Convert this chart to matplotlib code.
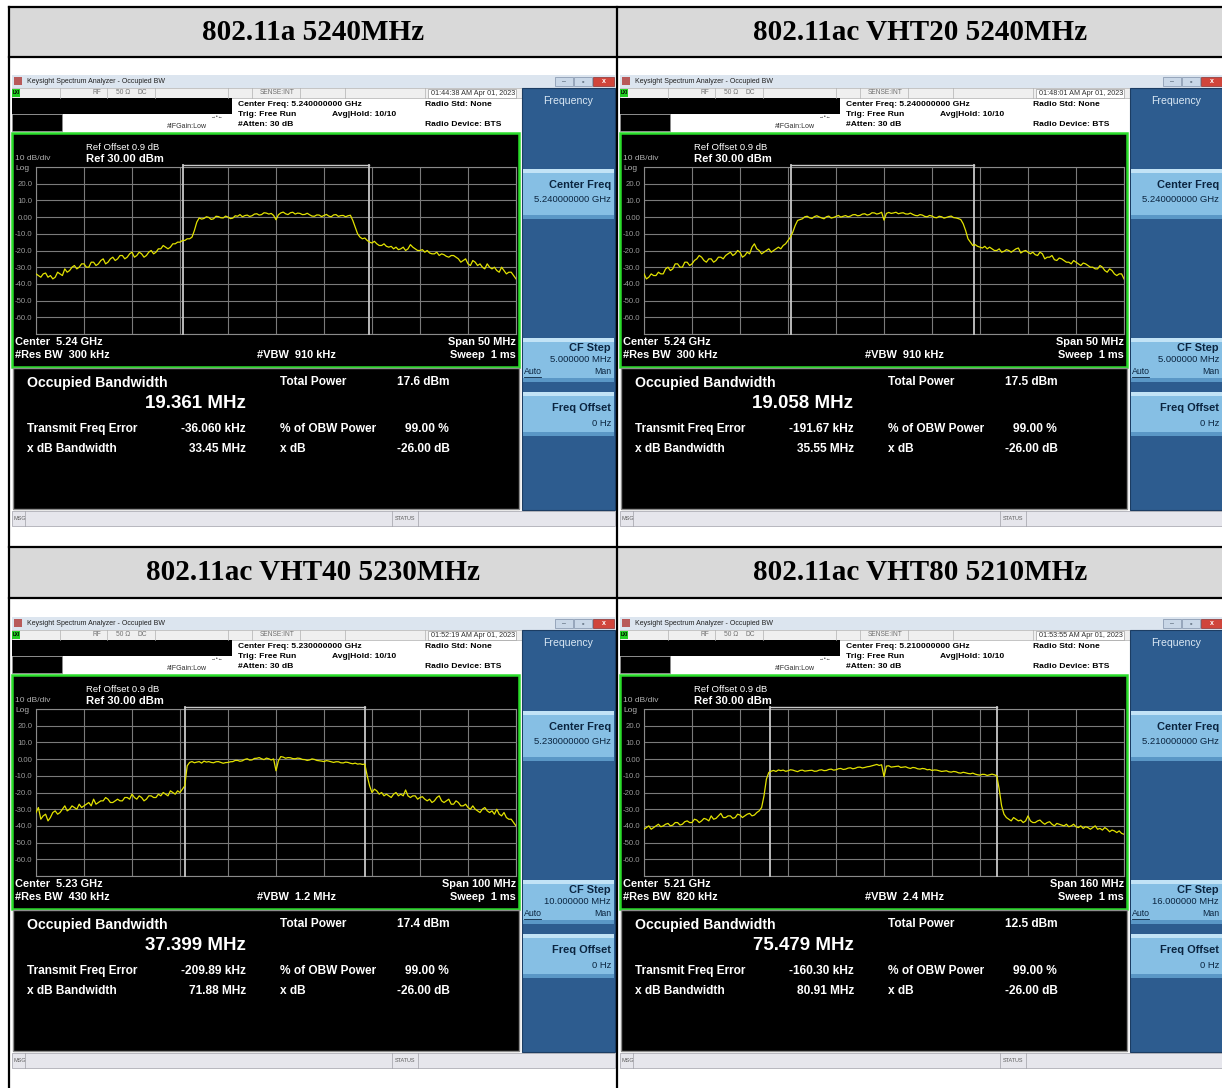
import numpy as np
import matplotlib.pyplot as plt
from matplotlib.patches import Rectangle

W, H = 1222, 1088

# Measurement settings for the four captures
titles = ["802.11a 5240MHz", "802.11ac VHT20 5240MHz",
          "802.11ac VHT40 5230MHz", "802.11ac VHT80 5210MHz"]
timestamps = ["01:44:38 AM Apr 01, 2023", "01:48:01 AM Apr 01, 2023",
              "01:52:19 AM Apr 01, 2023", "01:53:55 AM Apr 01, 2023"]
center_ghz = [5.24, 5.24, 5.23, 5.21]
span_mhz = [50, 50, 100, 160]
res_bw = ["300 kHz", "300 kHz", "430 kHz", "820 kHz"]
vbw = ["910 kHz", "910 kHz", "1.2 MHz", "2.4 MHz"]
cf_step = ["5.000000 MHz", "5.000000 MHz", "10.000000 MHz", "16.000000 MHz"]
obw_mhz = [19.361, 19.058, 37.399, 75.479]
total_power_dbm = [17.6, 17.5, 17.4, 12.5]
freq_error_khz = [-36.060, -191.67, -209.89, -160.30]
freq_error_txt = ["-36.060 kHz", "-191.67 kHz", "-209.89 kHz", "-160.30 kHz"]
xdb_bw_mhz = [33.45, 35.55, 71.88, 80.91]

# Spectrum traces (dBm), 201 points evenly spaced across each span
trace_11a = [
    -34, -35, -36, -34, -33.5, -36, -35, -37, -36, -33, -34, -35, -31, -33, -32, -30,
    -29, -31, -30, -28, -28, -30, -30, -27, -27, -29, -28, -26, -25, -28, -27, -25, -24,
    -26, -25, -23, -23, -25, -24, -22, -21, -24, -23, -21, -22, -24, -23, -21, -20,
    -22, -21, -19, -19, -17, -18, -19, -18, -16, -16, -15, -15, -14, -14, -13, -13, -12,
    -8, -3, -0.5, -1.2, -0.8, 0.2, -0.2, -1.4, -1, 0.5,
    0.3, -0.4, -0.5, 0.6, 0, -0.9, -0.6, 0.8, 0.5, 1.5,
    0.2, 0.9, 1.2, 0.4, 0.8, 1.8, 2.0, 1.2, 1.5, 2.6,
    2.4, 1.8, 2.2, 1.0, -1.6, 1.4, 2.5, 3.0, 2.0, 1.5,
    2.6, 2.9, 1.8, 2.4, 2.2, 1.5, 1.6, 2.3, 1.4, 0.6,
    0.5, 1.3, 1.2, 0.3, 1.0, 1.6, 0.6, 0.2, 1.3, 1.5,
    0.4, 0.9, 1.0, 0.2, 0.8, 1.1,
    -2, -6, -10, -12, -13, -12.5, -14, -15, -15.5, -14.5,
    -16, -17, -17, -16, -17.5, -18, -17.5, -19, -18, -19.5,
    -19, -18, -20, -19, -16.5, -18, -19, -20, -20, -19.5,
    -21, -20, -21.5, -22, -22, -21, -23, -22, -22.5, -23.5,
    -24, -23, -23, -24, -25, -27, -26, -25, -28, -29,
    -26, -27, -29, -28, -30, -31, -28, -30, -31, -30,
    -32, -33, -30, -32, -34, -33, -33, -35, -37,
]
trace_vht20 = [
    -34, -37, -36, -34, -35, -35, -33, -34, -34, -31, -30, -32, -31, -28, -28, -30,
    -30, -27, -27, -29, -28, -26, -25, -23, -24, -26, -27, -25, -25, -27, -26, -24, -24,
    -25, -23, -22, -21, -23, -22, -20, -21, -24, -23, -21, -22, -18, -16, -19, -20,
    -22, -21, -20, -19, -21, -20, -19, -18, -19, -17, -16, -14, -12, -9, -5,
    -2, -1.5, -1, 0.2, 0.5, -0.4, -0.8, 0.3, 0.8, 0.1,
    -0.5, -1.0, 0.2, 0.6, -0.6, -0.2, 0.4, 1.0, 0, 0.5,
    0.9, 0.2, 0.6, 1.4, 1.5, 0.8, 1.0, 1.8, 2.0, 1.2,
    1.6, 2.6, 2.5, 1.8, 2.2, 2.9, -1.8, 2.2, 2.8, 2.2,
    2.5, 2.9, 2.0, 2.4, 2.6, 1.9, 1.8, 2.4, 1.6, 1.0,
    0.8, 1.5, 1.2, 0.4, 0.2, 1.0, 0.6, -0.2, -0.4, 0.5,
    0.2, -0.6, -0.2, 0.3, 0.6, -0.3, -0.5, -0.9, -1.5,
    -4, -8, -13, -15, -17, -16.5, -17.5, -18, -18.5, -17.5,
    -19, -18, -19, -20, -20, -19, -21, -20.5, -19.5, -20,
    -21, -20, -19, -18.5, -21.5, -20.5, -20, -21, -22, -21,
    -22.5, -23, -21, -22, -25, -24, -24, -23, -25.5, -26,
    -24.5, -25, -26, -27, -27, -28, -26, -27, -28, -29,
    -27.5, -28, -29, -30, -30, -31, -31, -29, -30, -32,
    -33, -31, -32, -34, -35, -34, -34, -37,
]
trace_vht40 = [
    -32, -29, -36, -34, -33, -37, -35, -32, -31, -33, -32, -30, -28, -31, -30, -28,
    -29, -30, -27, -29, -28, -27, -26, -28, -24, -27, -26, -25, -25, -23, -24, -26,
    -26, -25, -24, -25, -25, -23, -23, -24, -21, -23, -24, -22, -23, -25, -24, -22,
    -22, -23, -23, -21, -22, -20, -21, -22, -19, -20, -21, -19, -20, -18,
    -16, -4, -2, -1.5, -2.2, -1.8, -1.5, -2.4, -1.2, -1.8,
    -1.5, -2.0, -2.2, -1.6, -1.5, -2.0, -2.5, -2.1, -2.0, -1.6,
    -1.5, -0.8, -0.8, -1.3, -1.0, -0.2, 0.2, -0.6, -0.5, 0.4,
    0.5, 0.9, 0.2, -0.3, 0.6, 0.2, -0.5, 0.1, -7, -1,
    1.5, 1.2, 0.5, 0.9, 0.8, 0.3, 0.2, 0.6, 0.4, -0.2,
    -0.3, -0.8, -0.5, 0.1, -0.2, -0.8, -1.0, -1.2, -1.5, -0.9,
    -1.2, -1.6, -2.0, -1.6, -1.6, -2.2, -2.3, -1.8, -2.0, -2.5,
    -2.8, -2.4, -3.0, -2.8, -3.2, -3.0,
    -10, -16, -20, -18, -19, -21, -20, -22, -21, -22,
    -23, -21, -20, -22, -21, -22, -18.5, -22, -23, -22,
    -22, -24, -23, -22.5, -24, -25, -24, -26, -25, -23,
    -22, -25, -26, -25, -24, -27, -27, -25, -26, -28,
    -28, -27, -29, -30, -28, -30, -31, -32, -30, -29,
    -31, -32, -31, -33, -30, -33, -34, -32, -35, -36,
    -36, -38, -40,
]
trace_vht80 = [
    -42, -41, -40, -42, -41, -40, -39, -40.5, -40, -39,
    -38.5, -40, -39.5, -38, -38, -39.5, -39, -37.5, -37, -38,
    -38, -36, -36.5, -38, -37, -35.5, -36, -37, -34, -36,
    -35.5, -34, -32.5, -35, -35, -34, -34, -35.5, -35, -33,
    -33.5, -35, -34, -33, -32.5, -34, -33.5, -32, -31, -29,
    -22, -12, -8, -7.2, -6.8, -7.4, -6.5, -6.9, -6.6, -7.3,
    -7.0, -6.4, -6.6, -7.1, -7.5, -6.8, -6.6, -7.2, -7.0, -6.8,
    -6.7, -7.3, -7.2, -6.6, -6.4, -6.9, -6.8, -6.2, -6.0, -6.6,
    -6.4, -5.8, -5.6, -6.2, -6.0, -5.4, -5.2, -5.8, -5.5, -4.9,
    -4.8, -5.3, -5.0, -4.6, -4.4, -4.0, -3.6, -3.2, -3.8, -3.4,
    -10.5, -4.2, -4.0, -4.8, -4.6, -4.4, -4.2, -5.0, -4.8, -4.6,
    -5.2, -5.6, -5.0, -5.2, -5.8, -6.0, -5.6, -5.8, -6.4, -6.2,
    -6.8, -6.5, -6.6, -7.0, -7.4, -7.2, -7.0, -7.6, -7.8, -7.4,
    -7.6, -8.2, -8.4, -7.9, -8.2, -8.6, -8.8, -8.4, -9.0, -9.4,
    -9.6, -9.1, -9.2, -9.8, -9.4, -9.0, -9.4, -10.0, -18, -28, -33,
    -35, -36, -37, -35, -36, -37, -36.5, -38, -37, -34,
    -37, -38, -38, -37, -36.5, -38, -39, -38, -37.5, -39,
    -40, -38.5, -39, -39.5, -40, -39, -40.5, -40, -39, -40.5,
    -41, -40, -41.5, -40.5, -41, -42, -41, -40, -42, -41.5,
    -42.5, -41, -42, -43.5, -42.5, -43, -44, -43, -44.5, -45,
]
traces = [trace_11a, trace_vht20, trace_vht40, trace_vht80]

offsets = [(0, 0), (608, 0), (0, 542), (608, 542)]

FONT = "Liberation Sans"

fig = plt.figure(figsize=(W / 100, H / 100), dpi=100)
bg = fig.add_axes([0, 0, 1, 1])
bg.set_xlim(0, W)
bg.set_ylim(H, 0)
bg.axis("off")

# table: header cells and grid lines
for (hx, hy), title in zip([(9, 7), (617, 7), (9, 547), (617, 547)], titles):
    bg.add_patch(Rectangle((hx, hy), 608 if hx == 9 else 605, 50, facecolor="#d9d9d9",
                           edgecolor="none"))
    bg.text(hx + (304 if hx == 9 else 303), hy + 26, title, fontsize=21, fontweight="bold",
            family="Liberation Serif", ha="center", va="center", color="black")
for y in [7, 57, 547, 598]:
    bg.plot([9, W], [y, y], color="black", lw=1.6)
for x in [9, 617]:
    bg.plot([x, x], [7, H], color="black", lw=1.6)


def draw_panel(k):
    dx, dy = offsets[k]

    def R(x, y, w, h, fc, ec="none", lw=0.0, z=2):
        bg.add_patch(Rectangle((x + dx, y + dy), w, h, facecolor=fc, edgecolor=ec,
                               linewidth=lw, zorder=z))

    def T(x, y, s, size, color="white", weight="normal", ha="left", z=5):
        bg.text(x + dx, y + dy, s, fontsize=size, color=color, fontweight=weight,
                ha=ha, va="center", family=FONT, zorder=z)

    def L(x0, y0, x1, y1, color, lw=0.6, z=3):
        bg.plot([x0 + dx, x1 + dx], [y0 + dy, y1 + dy], color=color, lw=lw, zorder=z)

    # window title bar
    R(12, 75, 603, 13, "#dce5ef")
    R(14, 77, 8, 8, "#b85a5a")
    T(27, 81.5, "Keysight Spectrum Analyzer - Occupied BW", 5.0, "#202020")
    R(555, 77, 18, 9, "#c9d7e7", "#7f90a8", 0.5)
    R(574, 77, 18, 9, "#c9d7e7", "#7f90a8", 0.5)
    R(593, 77, 21, 9, "#d0453b", "#8a3030", 0.5)
    T(564, 81.5, "–", 5, "#405060", ha="center")
    T(583, 81.5, "▫", 5, "#405060", ha="center")
    T(603.5, 81.5, "x", 5, "white", "bold", ha="center")

    # status row
    R(12, 88, 510, 10, "#efefef", "#b0b0b0", 0.5)
    R(12, 89, 8, 8, "#22cc22")
    T(16, 93, "LXI", 3.3, "black", "bold", ha="center")
    for x in [60, 107, 155, 228, 252, 300, 345, 425]:
        L(x, 88, x, 98, "#b0b0b0", 0.5)
    T(97, 93, "RF", 4.8, "#707070", ha="center")
    T(116, 93, "50 Ω", 4.8, "#707070")
    T(137, 93, "DC", 4.8, "#707070")
    T(277, 93, "SENSE:INT", 4.8, "#707070", ha="center")
    R(428, 89, 88, 9, "white", "#a0a0a0", 0.5)
    T(515, 93.5, timestamps[k], 5.2, "#303030", ha="right")

    # setup summary
    R(12, 98, 220, 16, "black")
    R(12, 114, 50, 17, "black", "#909090", 0.5)
    T(238, 104, f"Center Freq: {center_ghz[k]:.9f} GHz", 6.1, "black", "bold")
    T(238, 114, "Trig: Free Run", 6.1, "black", "bold")
    T(238, 124.5, "#Atten: 30 dB", 6.1, "black", "bold")
    T(332, 114, "Avg|Hold: 10/10", 6.1, "black", "bold")
    T(425, 104, "Radio Std: None", 6.1, "black", "bold")
    T(425, 125, "Radio Device: BTS", 6.1, "black", "bold")
    T(167, 127, "#IFGain:Low", 5.0, "#303030")
    T(217, 116.5, "→•←", 3.5, "#303030", ha="center")

    # graph frame and annotations
    R(12, 133, 507, 234, "black", "#2add2a", 1.8)
    T(15, 158, "10 dB/div", 6.0, "#b0b0b0")
    T(15, 169, "Log", 6.0, "#b0b0b0")
    T(86, 148, "Ref Offset 0.9 dB", 6.8, "white")
    T(86, 159, "Ref 30.00 dBm", 8.1, "white", "bold")
    T(15, 342, f"Center  {center_ghz[k]:.2f} GHz", 7.9, "white", "bold")
    T(15, 355, f"#Res BW  {res_bw[k]}", 7.9, "white", "bold")
    T(257, 355, f"#VBW  {vbw[k]}", 7.9, "white", "bold")
    T(516, 342, f"Span {span_mhz[k]} MHz", 7.9, "white", "bold", ha="right")
    T(516, 355, "Sweep  1 ms", 7.9, "white", "bold", ha="right")

    # results table
    R(13, 368, 506, 141, "black", "#8c8c8c", 1.0)
    T(27, 383, "Occupied Bandwidth", 10.2, "white", "bold")
    T(195, 404, f"{obw_mhz[k]:.3f} MHz", 13.5, "white", "bold", ha="center")
    T(280, 382, "Total Power", 8.6, "white", "bold")
    T(397, 382, f"{total_power_dbm[k]:.1f} dBm", 8.6, "white", "bold")
    T(27, 429, "Transmit Freq Error", 8.6, "white", "bold")
    T(246, 429, freq_error_txt[k], 8.6, "white", "bold", ha="right")
    T(280, 429, "% of OBW Power", 8.6, "white", "bold")
    T(405, 429, "99.00 %", 8.6, "white", "bold")
    T(27, 449, "x dB Bandwidth", 8.6, "white", "bold")
    T(246, 449, f"{xdb_bw_mhz[k]:.2f} MHz", 8.6, "white", "bold", ha="right")
    T(280, 449, "x dB", 8.6, "white", "bold")
    T(397, 449, "-26.00 dB", 8.6, "white", "bold")

    # message bar
    R(12, 511, 603, 15, "#e6e6ec", "#a0a0a8", 0.5)
    T(14, 518.5, "MSG", 4.0, "#606060")
    L(25, 511, 25, 526, "#a0a0a8", 0.5)
    L(392, 511, 392, 526, "#a0a0a8", 0.5)
    L(418, 511, 418, 526, "#a0a0a8", 0.5)
    T(395, 518.5, "STATUS", 4.0, "#606060")

    # softkey panel
    R(522, 88, 93, 422, "#2d5c8f", "#1c3d63", 0.8)
    T(568, 101, "Frequency", 7.6, "#dbe9f5", ha="center")
    for (y0, h) in [(169, 50), (338, 44), (392, 44)]:
        R(523, y0, 91, h, "#86bfe4")
        R(523, y0, 91, 4, "#c2e3f6")
        R(523, y0 + h - 4, 91, 4, "#5a97c6")
    navy = "#0b2540"
    T(611, 185, "Center Freq", 7.9, navy, "bold", ha="right")
    T(611, 200, f"{center_ghz[k]:.9f} GHz", 6.8, navy, ha="right")
    T(611, 348, "CF Step", 7.9, navy, "bold", ha="right")
    T(611, 360, cf_step[k], 6.8, navy, ha="right")
    T(524, 372, "Auto", 6.3, navy)
    L(524, 377, 541, 377, navy, 0.6, z=6)
    T(611, 372, "Man", 6.3, navy, ha="right")
    T(611, 408, "Freq Offset", 7.9, navy, "bold", ha="right")
    T(611, 423, "0 Hz", 6.8, navy, ha="right")

    # spectrum trace
    gx, gy, gw, gh = 36 + dx, 167 + dy, 480, 167
    ax = fig.add_axes([gx / W, 1 - (gy + gh) / H, gw / W, gh / H])
    ax.set_facecolor("black")
    half = span_mhz[k] / 2
    ax.set_xlim(-half, half)
    ax.set_ylim(-70, 30)
    ax.set_xticks(np.linspace(-half, half, 11))
    ax.set_yticks(np.arange(-70, 31, 10))
    ylabels = []
    for v in np.arange(-70, 31, 10):
        if v in (-70, 30):
            ylabels.append("")
        elif v == 0:
            ylabels.append("0.00")
        else:
            ylabels.append(f"{v:.1f}")
    ax.set_yticklabels(ylabels)
    ax.set_xticklabels([])
    ax.tick_params(length=0, labelsize=5.6, labelcolor="#9a9a9a", pad=2.5)
    for lab in ax.get_yticklabels():
        lab.set_family(FONT)
    ax.grid(True, color="#7a7a7a", lw=0.8)
    for s in ax.spines.values():
        s.set_color("#8a8a8a")
        s.set_linewidth(0.8)

    freqs = np.linspace(-half, half, len(traces[k]))
    ax.plot(freqs, traces[k], color="#e2e200", lw=0.9, zorder=4)

    # occupied bandwidth markers
    f0 = freq_error_khz[k] / 1000.0
    lo, hi = f0 - obw_mhz[k] / 2, f0 + obw_mhz[k] / 2
    for f in (lo, hi):
        ax.plot([f, f], [-70, 31], color="#c8c8c8", lw=1.3, clip_on=False, zorder=3)
    ax.plot([lo, hi], [31, 31], color="#c8c8c8", lw=1.0, clip_on=False, zorder=3)


for k in range(4):
    draw_panel(k)

fig.savefig("out.png", dpi=100, facecolor="white")
